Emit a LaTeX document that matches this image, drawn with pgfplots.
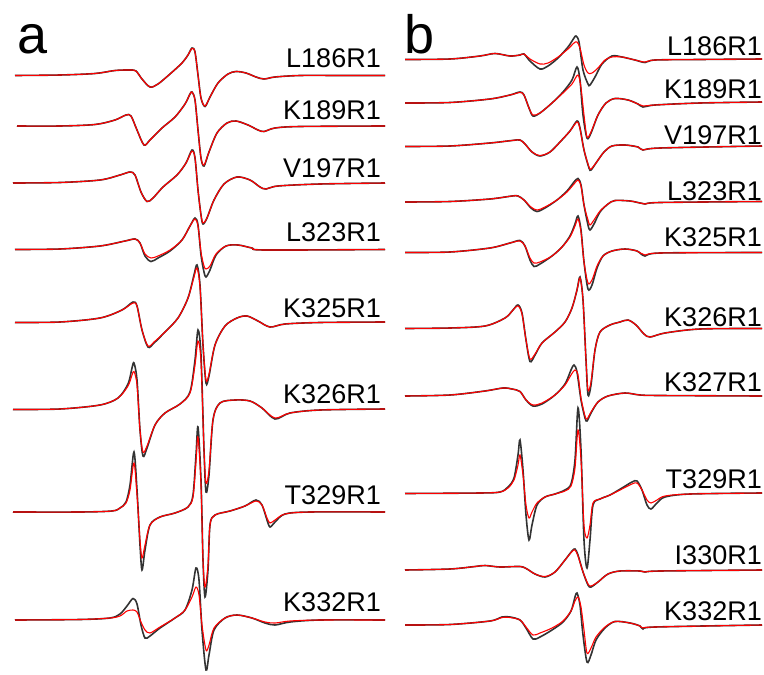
\documentclass[border=0pt]{standalone}
\usepackage{fontspec}
\setmainfont{Liberation Sans}
\usepackage{pgfplots}
\pgfplotsset{compat=1.18}

% x and y are in pixels of the reference image (y downwards)
\pgfplotsset{
  expt/.style={black!80, line width=1.6pt, smooth, tension=0.5},
  simu/.style={red, line width=1.1pt, smooth, tension=0.5},
}

\begin{document}
\begin{tikzpicture}
\begin{axis}[
  width=764pt, height=671pt, scale only axis,
  xmin=0, xmax=764, ymin=0, ymax=671, y dir=reverse,
  hide axis, clip=false,
]
\path (axis cs:0,0) rectangle (axis cs:764,671);

% ---------------- panel a ----------------
% L186R1
\addplot[expt] coordinates {(15,75.5)(60,75)(95,73.5)(115,70.5)(130,70)(136,71)(142,79)(150,87)(158,84)(170,74)(182,63)(188,55)(192,48)(195,52)(198,75)(201,98)(205,106.5)(210,97)(218,83)(228,74)(236,71.5)(246,73)(256,77)(264,79)(275,77)(300,75.5)(340,75.5)(385,75.5)};
\addplot[simu] coordinates {(15,75.5)(60,75)(95,73.5)(115,70.5)(130,70)(136,71)(142,79)(150,87)(158,84)(170,74)(182,63)(188,55)(192,48.5)(195,52)(198,75)(201,98)(205,106)(210,97)(218,83)(228,74)(236,71.5)(246,73)(256,77)(264,79)(275,77)(300,75.5)(340,75.5)(385,75.5)};
% K189R1
\addplot[expt] coordinates {(17,126)(60,126)(95,124.5)(115,120)(126,115)(131,116)(137,130)(144,145)(150,140)(162,128)(175,117)(185,104)(190,94)(192,92)(195,100)(198,130)(201,158)(204,166)(209,152)(217,133)(227,123)(236,121)(248,125)(258,130)(264,131.5)(275,128)(300,126.5)(385,126)};
\addplot[simu] coordinates {(17,126)(60,126)(95,124.5)(115,120)(126,115)(131,116)(137,130)(144,145)(150,140)(162,128)(175,117)(185,104)(190,94)(192,92)(195,100)(198,130)(201,158)(204,165)(209,152)(217,133)(227,123)(236,121)(248,125)(258,130)(264,131.5)(275,128)(300,126.5)(385,126)};
% V197R1
\addplot[expt] coordinates {(13,183)(60,182.5)(100,180)(120,175)(130,172)(135,175)(141,192)(147,201.5)(153,198)(163,187)(177,175)(186,163)(192,150)(195,158)(198,190)(201,215)(203,224)(207,218)(214,200)(224,184)(237,177)(250,180)(260,187)(266,189)(278,186)(320,184)(385,183)};
\addplot[simu] coordinates {(13,183)(60,182.5)(100,180)(120,175)(130,172)(135,175)(141,192)(147,201.5)(153,198)(163,187)(177,175)(186,163)(192,151)(195,158)(198,190)(201,215)(203,223)(207,218)(214,200)(224,184)(237,177)(250,180)(260,187)(266,189)(278,186)(320,184)(385,183)};
% L323R1
\addplot[expt] coordinates {(15,249.5)(60,249)(100,246)(125,241)(135,239)(140,243)(145,256)(151,261.5)(158,258)(170,251)(182,240)(190,226)(195,218)(198,225)(201,255)(204,272)(206,277)(210,270)(216,255)(226,246)(238,245)(252,248)(265,250)(385,249.5)};
\addplot[simu] coordinates {(15,249.5)(60,249)(100,246)(125,241)(135,239)(140,243)(145,254)(151,258)(158,256)(170,250)(182,240)(190,226)(195,219)(198,226)(201,252)(204,266)(206,269)(210,266)(216,254)(226,246)(238,245)(252,248)(265,250)(385,249.5)};
% K325R1
\addplot[expt] coordinates {(15,322.5)(60,322)(100,318)(122,310)(133,302)(137,306)(142,330)(148,347)(154,343)(165,332)(178,318)(188,298)(194,275)(197,265)(200,285)(203,345)(206,383)(209,376)(215,345)(225,326)(237,318)(247,316)(258,321)(270,327)(285,324)(320,322.5)(385,322)};
\addplot[simu] coordinates {(15,322.5)(60,322)(100,318)(122,310)(133,303)(137,306)(142,330)(148,346)(154,342)(165,332)(178,318)(188,298)(194,277)(197,268)(200,287)(203,345)(206,380)(209,374)(215,345)(225,326)(237,318)(247,316)(258,321)(270,327)(285,324)(320,322.5)(385,322)};
% K326R1
\addplot[expt] coordinates {(13,409.5)(60,409)(100,405)(118,398)(128,384)(132,368)(134,363)(137,380)(140,430)(143,456)(147,448)(155,425)(165,413)(180,404)(190,392)(195,360)(198,330)(201,355)(204,450)(206,492)(209,475)(213,420)(220,403)(235,400)(250,401)(262,408)(275,419)(290,413)(320,410)(385,409)};
\addplot[simu] coordinates {(13,409.5)(60,409)(100,405)(118,398)(128,386)(132,375)(134,371.5)(137,385)(140,430)(143,452)(147,446)(155,425)(165,413)(180,404)(190,393)(195,365)(198,341)(201,362)(204,450)(206,483)(209,470)(213,420)(220,403)(235,400)(250,401)(262,408)(275,418)(290,413)(320,410)(385,409)};
% T329R1
\addplot[expt] coordinates {(13,512)(80,512)(112,511)(120,508)(126,502)(130,485)(134,452)(137,490)(140,545)(142,570)(145,550)(150,525)(160,517)(175,513)(188,507)(193,495)(196,455)(198,427)(201,480)(203,560)(205,597)(208,570)(210,525)(215,515)(230,511)(245,506)(256,500)(262,505)(267,520)(270,527)(275,522)(285,514)(310,512)(385,512)};
\addplot[simu] coordinates {(13,512)(80,512)(112,511)(120,508)(126,503)(130,490)(134,463)(137,495)(140,540)(142,558)(145,545)(150,525)(160,517)(175,513)(188,507)(193,497)(196,462)(198,437)(201,485)(203,560)(205,587)(208,565)(210,525)(215,515)(230,511)(245,506)(256,501)(262,505)(267,518)(270,523)(275,520)(285,514)(310,512)(385,512)};
% K332R1
\addplot[expt] coordinates {(15,620)(80,619.5)(110,618)(120,614)(127,606)(133,598.5)(137,604)(141,625)(145,638)(150,636)(160,628)(175,618)(185,610)(192,590)(196,568)(199,580)(202,630)(206,670)(209,655)(214,630)(225,618)(237,615)(252,618)(265,623)(275,625)(290,622)(320,620)(385,620)};
\addplot[simu] coordinates {(15,620)(80,619.5)(110,618)(120,616)(127,611)(133,610)(137,612)(141,622)(145,630)(150,633)(160,627)(175,618)(185,610)(192,597)(196,587)(199,595)(202,625)(206,650)(209,645)(214,628)(225,618)(237,615)(252,618)(265,622)(275,623)(290,621)(320,620)(385,620)};

\node[anchor=base west, inner sep=0, font=\fontsize{54}{54}\selectfont] at (axis cs:17,53) {a};
\begin{scope}[every node/.style={anchor=base east, inner sep=0, font=\fontsize{27}{27}\selectfont}]
\node at (axis cs:381,67) {L186R1};
\node at (axis cs:381,119) {K189R1};
\node at (axis cs:381,177) {V197R1};
\node at (axis cs:381,241) {L323R1};
\node at (axis cs:381,317) {K325R1};
\node at (axis cs:381,403) {K326R1};
\node at (axis cs:381,504) {T329R1};
\node at (axis cs:381,611) {K332R1};
\end{scope}

% ---------------- panel b ----------------
% L186R1
\addplot[expt] coordinates {(405,59.5)(450,59)(480,56)(495,53.5)(510,56)(520,55)(524,54)(530,61)(540,69)(548,66)(558,58)(568,47)(574,38)(576,36)(579,42)(583,70)(588,84)(590,85)(595,77)(602,64)(612,56)(622,57)(635,60)(645,62.5)(655,60)(700,59.5)(762,59)};
\addplot[simu] coordinates {(405,59.5)(450,59)(480,56)(495,53.5)(510,56)(520,55)(524,54)(530,59)(540,64)(548,63)(558,57)(568,49)(574,43)(577,42)(580,48)(584,65)(588,73)(592,73)(598,68)(605,60)(612,57)(622,57)(635,60)(645,62)(655,60)(700,59.5)(762,59)};
% K189R1
\addplot[expt] coordinates {(405,103)(450,102.5)(490,99)(510,95)(520,92)(524,95)(529,108)(533,116)(540,113)(552,103)(563,92)(572,80)(577,67)(580,80)(583,115)(587,138)(591,133)(598,115)(606,103)(615,98.5)(628,100)(638,104)(643,107)(655,105)(700,103)(762,102)};
\addplot[simu] coordinates {(405,103)(450,102.5)(490,99)(510,95)(520,92.5)(524,95)(529,108)(533,115)(540,113)(552,103)(563,93)(572,84)(578,75)(581,88)(584,115)(587,137)(591,132)(598,115)(606,103)(615,98.5)(628,100)(638,104)(643,106)(655,105)(700,103)(762,102)};
% V197R1
\addplot[expt] coordinates {(405,146.5)(450,146)(490,143)(512,140.5)(520,140)(525,144)(532,152)(540,156)(550,152)(560,142)(570,131)(577,121)(580,128)(584,150)(589,168)(591,170)(596,163)(604,152)(612,146)(625,145)(638,147)(643,150)(660,148)(762,146)};
\addplot[simu] coordinates {(405,146.5)(450,146)(490,143)(512,140.5)(520,140)(525,144)(532,152)(540,155.5)(550,152)(560,142)(570,131)(577,122)(580,129)(584,150)(589,167)(591,169)(596,163)(604,152)(612,146)(625,145)(638,147)(643,150)(660,148)(762,146)};
% L323R1
\addplot[expt] coordinates {(405,202)(450,201.5)(490,199)(512,196)(518,196)(524,200)(531,208)(537,211.5)(545,208)(557,200)(567,191)(574,182)(578,178.5)(581,185)(584,205)(588,225)(590,230)(594,224)(600,212)(608,204)(615,200.5)(630,201)(640,203)(645,204)(660,202.5)(762,201.5)};
\addplot[simu] coordinates {(405,202)(450,201.5)(490,199)(512,196)(518,196)(524,200)(531,207)(537,210)(545,207)(557,200)(567,192)(574,184)(578,180)(581,186)(584,205)(588,220)(590,225)(594,220)(600,211)(608,204)(615,200.5)(630,201)(640,203)(645,204)(660,202.5)(762,201.5)};
% K325R1
\addplot[expt] coordinates {(405,252.5)(450,252)(490,248)(510,243)(520,240.5)(525,246)(530,260)(534,266.5)(540,264)(552,256)(562,247)(570,236)(575,224)(578,216)(581,230)(584,262)(588,289)(592,285)(597,268)(603,256)(612,251)(625,249)(637,251)(645,256)(660,253)(762,252.5)};
\addplot[simu] coordinates {(405,252.5)(450,252)(490,248)(510,243)(520,241)(525,246)(530,258)(534,263)(540,262)(552,256)(562,247)(570,237)(575,226)(578,219)(581,232)(584,262)(588,283)(592,280)(597,266)(603,256)(612,251)(625,249)(637,251)(645,255)(660,253)(762,252.5)};
% K326R1
\addplot[expt] coordinates {(405,328.5)(450,328)(485,326)(505,318)(513,310)(518,305)(522,313)(526,340)(530,361.5)(535,355)(542,343)(555,332)(565,322)(572,308)(577,290)(580,277)(583,300)(586,360)(588,395)(591,385)(595,350)(600,332)(610,325)(620,322)(628,320)(636,325)(644,334)(650,337)(665,333)(700,329)(762,328.5)};
\addplot[simu] coordinates {(405,328.5)(450,328)(485,326)(505,318)(513,310)(518,306)(522,314)(526,340)(530,359)(535,354)(542,343)(555,332)(565,322)(572,308)(577,290)(580,278)(583,300)(586,360)(588,390)(591,382)(595,350)(600,332)(610,325)(620,322)(628,320)(636,325)(644,334)(650,337)(665,333)(700,329)(762,328.5)};
% K327R1
\addplot[expt] coordinates {(405,396)(450,395)(485,391)(503,388)(512,389)(520,391.5)(526,400)(533,406)(542,404)(555,395)(565,384)(571,370)(574,365)(577,372)(581,400)(585,418)(587,421)(591,413)(598,402)(608,396)(625,393)(640,395)(660,395.5)(762,396)};
\addplot[simu] coordinates {(405,396)(450,395)(485,391)(503,388)(512,389)(520,391.5)(526,400)(533,405)(542,403)(555,395)(565,385)(571,375)(575,370)(578,375)(581,398)(585,416)(587,419)(591,412)(598,402)(608,396)(625,393)(640,395)(660,395.5)(762,396)};
% T329R1
\addplot[expt] coordinates {(405,493.5)(480,493)(500,492)(508,487)(514,478)(518,455)(520,440)(523,470)(526,515)(529,540)(532,525)(537,505)(545,497)(555,494)(565,490)(571,484)(575,460)(578,408)(581,450)(584,540)(587,568)(590,540)(593,505)(600,499)(610,495)(622,488)(632,482)(637,481)(642,490)(647,505)(651,509)(657,503)(665,497)(690,494)(762,493)};
\addplot[simu] coordinates {(405,493.5)(480,493)(500,492)(508,488)(514,480)(518,465)(520,455)(523,475)(526,505)(529,518)(532,512)(537,503)(545,497)(555,494)(565,491)(571,486)(575,468)(578,430)(581,460)(584,525)(587,538)(590,525)(593,503)(600,499)(610,495)(622,489)(632,484)(637,483)(642,490)(647,500)(651,503)(657,500)(665,496)(690,494)(762,493)};
% I330R1
\addplot[expt] coordinates {(405,570)(450,569)(475,566.5)(485,565.5)(500,567)(520,566.5)(527,569)(535,574)(545,577)(555,572)(565,560)(572,551)(575,549)(578,555)(583,572)(588,585)(591,587)(598,582)(608,574)(620,571)(640,571)(645,572)(660,571)(762,570)};
\addplot[simu] coordinates {(405,570)(450,569)(475,566.5)(485,565.5)(500,567)(520,566.5)(527,569)(535,574)(545,576.5)(555,572)(565,560)(572,551.5)(575,550)(578,556)(583,572)(588,584)(591,586)(598,582)(608,574)(620,571)(640,571)(645,572)(660,571)(762,570)};
% K332R1
\addplot[expt] coordinates {(405,625)(450,624.5)(490,621)(502,617)(510,617)(520,620)(526,628)(533,639)(540,637)(552,630)(563,622)(571,611)(575,597)(577,593)(580,605)(583,635)(587,662)(591,655)(596,640)(605,628)(615,621.5)(630,623)(640,626)(643,629)(655,627)(762,625)};
\addplot[simu] coordinates {(405,625)(450,624.5)(490,621)(502,617.5)(510,617.5)(520,620)(526,627)(533,635)(540,633)(552,628)(563,621)(571,611)(575,601)(578,597)(581,607)(584,630)(587,653)(591,648)(596,637)(605,627)(615,621.5)(630,623)(640,626)(643,628)(655,627)(762,625)};

\node[anchor=base west, inner sep=0, font=\fontsize{54}{54}\selectfont] at (axis cs:404,53) {b};
\begin{scope}[every node/.style={anchor=base east, inner sep=0, font=\fontsize{27}{27}\selectfont}]
\node at (axis cs:762,55) {L186R1};
\node at (axis cs:762,98) {K189R1};
\node at (axis cs:762,144) {V197R1};
\node at (axis cs:762,200) {L323R1};
\node at (axis cs:762,246) {K325R1};
\node at (axis cs:762,326) {K326R1};
\node at (axis cs:762,391) {K327R1};
\node at (axis cs:762,488) {T329R1};
\node at (axis cs:762,564) {I330R1};
\node at (axis cs:762,620) {K332R1};
\end{scope}
\end{axis}
\end{tikzpicture}
\end{document}
